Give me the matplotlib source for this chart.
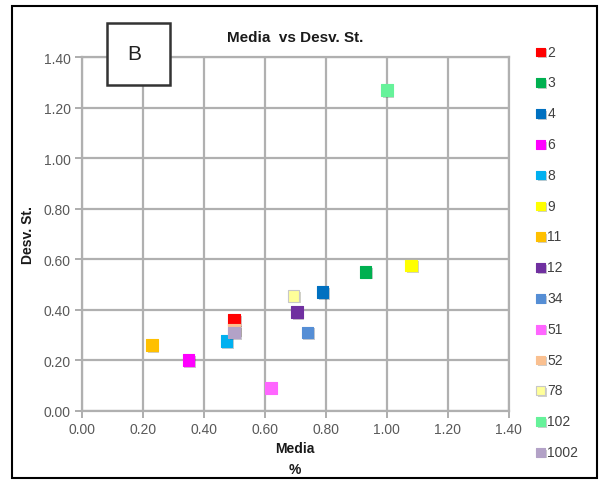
import matplotlib.pyplot as plt
import matplotlib.patheffects as pe
from matplotlib.patches import Rectangle

plt.rcParams['font.family'] = ['Liberation Sans', 'DejaVu Sans']

# Media / Desv. St. por muestra
muestras = ['2', '3', '4', '6', '8', '9', '11', '12', '34', '51', '52', '78', '102', '1002']
media = [0.50, 0.93, 0.79, 0.35, 0.475, 1.08, 0.23, 0.705, 0.74, 0.62, 0.50, 0.695, 1.00, 0.50]
desv = [0.36, 0.55, 0.47, 0.20, 0.275, 0.575, 0.26, 0.39, 0.31, 0.09, 0.32, 0.455, 1.27, 0.31]
colores = ['#FF0000', '#00B050', '#0070C0', '#FF00FF', '#00B0F0', '#FFFF00', '#FFC000',
           '#7030A0', '#558ED5', '#FF66FF', '#FAC090', '#FFFF99', '#66F29A', '#B3A2C7']

x_ticks = [0.0, 0.2, 0.4, 0.6, 0.8, 1.0, 1.2, 1.4]
y_ticks = [0.0, 0.2, 0.4, 0.6, 0.8, 1.0, 1.2, 1.4]

fig = plt.figure(figsize=(6.02, 4.81), dpi=100)
ax = fig.add_axes([81.7 / 602, 1 - 411.7 / 481, 427 / 602, 353.5 / 481])

sombra = [pe.SimplePatchShadow(offset=(1.2, -1.2), alpha=0.25), pe.Normal()]
for m, x, y, c in zip(muestras, media, desv, colores):
    borde = '#C8C8C8' if m == '78' else c
    ax.scatter(x, y, s=70, marker='s', color=c, edgecolors=borde, linewidths=0.8,
               label=m, zorder=3, path_effects=sombra)

ax.set_xlim(0, 1.4)
ax.set_ylim(0, 1.4)
ax.set_xticks(x_ticks)
ax.set_yticks(y_ticks)
ax.set_xticklabels([f'{v:.2f}' for v in x_ticks])
ax.set_yticklabels([f'{v:.2f}' for v in y_ticks])
ax.grid(True, color='#B0B0B0', linewidth=1.6)
ax.set_axisbelow(True)
for lado in ['left', 'bottom', 'top', 'right']:
    ax.spines[lado].set_color('#B0B0B0')
    ax.spines[lado].set_linewidth(1.6)
ax.tick_params(axis='both', colors='#A0A0A0', length=5, width=1.2, direction='out',
               labelcolor='#595959', labelsize=10, pad=3)

ax.set_title('Media  vs Desv. St.', fontsize=11, fontweight='bold', color='#1a1a1a', pad=12)
ax.set_xlabel('Media\n%', fontsize=10, fontweight='bold', color='#1a1a1a', labelpad=4,
              linespacing=1.6)
ax.set_ylabel('Desv. St.', fontsize=10, fontweight='bold', color='#1a1a1a', labelpad=6)

# recuadro con la letra del panel
fig.patches.append(Rectangle((106.7 / 602, 1 - 86 / 481), 63.3 / 602, 61.7 / 481,
                             transform=fig.transFigure, facecolor='white',
                             edgecolor='#333333', linewidth=1.8, zorder=5))
fig.text(134 / 602, 1 - 54 / 481, 'B', fontsize=15, ha='center', va='center',
         color='#222222', zorder=6)

# marco exterior
fig.patches.append(Rectangle((12 / 602, 1 - 479 / 481), 585 / 602, 472 / 481,
                             transform=fig.transFigure, fill=False,
                             edgecolor='black', linewidth=1.5))

fig.legend(loc='upper left', bbox_to_anchor=(528 / 602, 1 - 40 / 481), frameon=False,
           fontsize=10, labelcolor='#404040', handletextpad=0.0, handlelength=1.0,
           labelspacing=1.21, markerscale=0.75, borderaxespad=0)

fig.savefig('out.png', dpi=100)
